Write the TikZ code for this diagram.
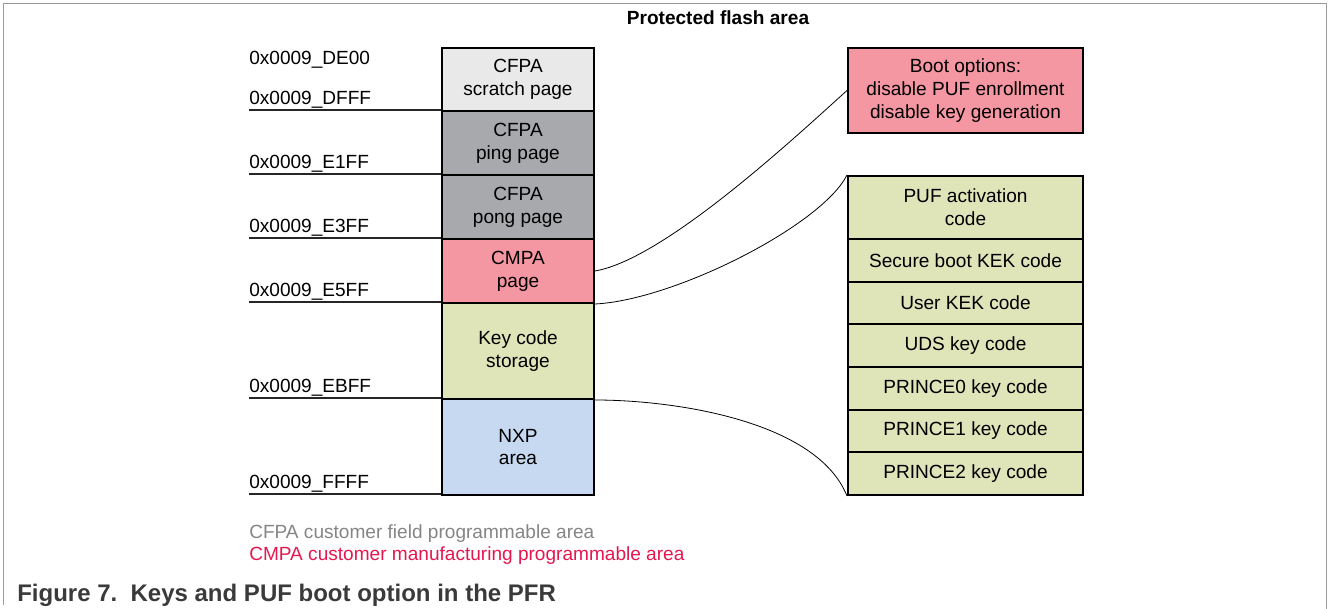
\documentclass[tikz,border=0pt]{standalone}
\usepackage{fontspec}
\setmainfont{Liberation Sans}

\definecolor{scratchgray}{HTML}{E8E9E8}
\definecolor{pagegray}{HTML}{A7A9AC}
\definecolor{cmpapink}{HTML}{F597A2}
\definecolor{keygreen}{HTML}{DFE4B9}
\definecolor{nxpblue}{HTML}{C6D9F0}
\definecolor{framegray}{HTML}{9A9A9A}
\definecolor{legendgray}{HTML}{858585}
\definecolor{legendred}{HTML}{E4174F}
\definecolor{captiongray}{HTML}{3A3A3A}

\tikzset{
  txt/.style={font=\fontsize{14.3}{17}\selectfont, align=center},
  mem/.style={txt, draw=black, line width=1.5pt, inner sep=0pt,
              anchor=north west, minimum width=114pt},
  keyrow/.style={txt, draw=black, line width=1.5pt, inner sep=0pt,
                 anchor=north west, minimum width=176.25pt},
  addr/.style={font=\fontsize{14.3}{17}\selectfont, anchor=base west, inner sep=0pt},
  addrline/.style={draw=black!85, line width=0.8pt},
  link/.style={draw=black, line width=0.6pt},
}

\begin{document}
\begin{tikzpicture}[x=0.75pt, y=-0.75pt]
  \useasboundingbox (0,0) rectangle (1328,609);

  % outer frame
  \coordinate (ftl) at (3.5,3.5);
  \coordinate (ftr) at (1326.5,3.5);
  \coordinate (fbl) at (3.5,605);
  \coordinate (fbr) at (1326.5,609);
  \draw[framegray, line width=1pt] (fbl) -- (ftl) -- (ftr) -- (fbr);

  % heading
  \node[font=\bfseries\fontsize{14.3}{17}\selectfont] (title) at (718,18) {Protected flash area};

  % address boundary lines
  \coordinate (l1) at (249,110);
  \coordinate (l2) at (249,174);
  \coordinate (l3) at (249,238);
  \coordinate (l4) at (249,302);
  \coordinate (l5) at (249,398);
  \coordinate (l6) at (249,494);
  \coordinate (c1) at (441,110);
  \coordinate (c2) at (441,174);
  \coordinate (c3) at (441,238);
  \coordinate (c4) at (441,302);
  \coordinate (c5) at (441,398);
  \coordinate (c6) at (441,494);
  \foreach \i in {1,...,6} { \draw[addrline] (l\i) -- (c\i); }

  % address labels
  \node[addr] (aDE00) at (249,64.5) {0x0009\_DE00};
  \node[addr] (aDFFF) at (249,104.5) {0x0009\_DFFF};
  \node[addr] (aE1FF) at (249,168.5) {0x0009\_E1FF};
  \node[addr] (aE3FF) at (249,232.5) {0x0009\_E3FF};
  \node[addr] (aE5FF) at (249,296.5) {0x0009\_E5FF};
  \node[addr] (aEBFF) at (249,392.5) {0x0009\_EBFF};
  \node[addr] (aFFFF) at (249,488.5) {0x0009\_FFFF};

  % protected flash column
  \node[mem, fill=scratchgray, minimum height=47.25pt] (scratch) at (441,47) {CFPA\\scratch page};
  \node[mem, fill=pagegray, minimum height=48pt] (ping) at (441,110) {CFPA\\ping page};
  \node[mem, fill=pagegray, minimum height=48pt] (pong) at (441,174) {CFPA\\pong page};
  \node[mem, fill=cmpapink, minimum height=48pt] (cmpa) at (441,238) {CMPA\\page};
  \node[mem, fill=keygreen, minimum height=72pt] (keystore) at (441,302) {Key code\\storage};
  \node[mem, fill=nxpblue, minimum height=72pt] (nxp) at (441,398) {NXP\\area};

  % boot options
  \node[keyrow, fill=cmpapink, minimum height=63.75pt] (boot) at (847,47)
    {Boot options:\\disable PUF enrollment\\disable key generation};

  % key code stack
  \node[keyrow, fill=keygreen, minimum height=47.25pt] (puf) at (847,175) {PUF activation\\code};
  \node[keyrow, fill=keygreen, minimum height=32pt] (sbkek) at (847,238) {Secure boot KEK code};
  \node[keyrow, fill=keygreen, minimum height=32pt] (userkek) at (847,280.67) {User KEK code};
  \node[keyrow, fill=keygreen, minimum height=32pt] (uds) at (847,323.33) {UDS key code};
  \node[keyrow, fill=keygreen, minimum height=32pt] (prince0) at (847,366) {PRINCE0 key code};
  \node[keyrow, fill=keygreen, minimum height=32pt] (prince1) at (847,408.67) {PRINCE1 key code};
  \node[keyrow, fill=keygreen, minimum height=32pt] (prince2) at (847,451.33) {PRINCE2 key code};

  % expansion curves
  \draw[link] (cmpa.east) .. controls +(70,-12) and +(-50,45) .. (boot.west);
  \draw[link] (cmpa.south east) .. controls +(80,-4) and +(-25,50) .. (puf.north west);
  \draw[link] (keystore.south east) .. controls +(80,0) and +(-30,-75) .. (prince2.south west);

  % legend
  \node[addr, text=legendgray] (leg1) at (249,538) {CFPA customer field programmable area};
  \node[addr, text=legendred] (leg2) at (249,560) {CMPA customer manufacturing programmable area};

  % caption
  \node[anchor=base west, inner sep=0pt, text=captiongray,
        font=\bfseries\fontsize{18}{21}\selectfont] (caption) at (17,601)
    {Figure 7.\ \ Keys and PUF boot option in the PFR};
\end{tikzpicture}
\end{document}
